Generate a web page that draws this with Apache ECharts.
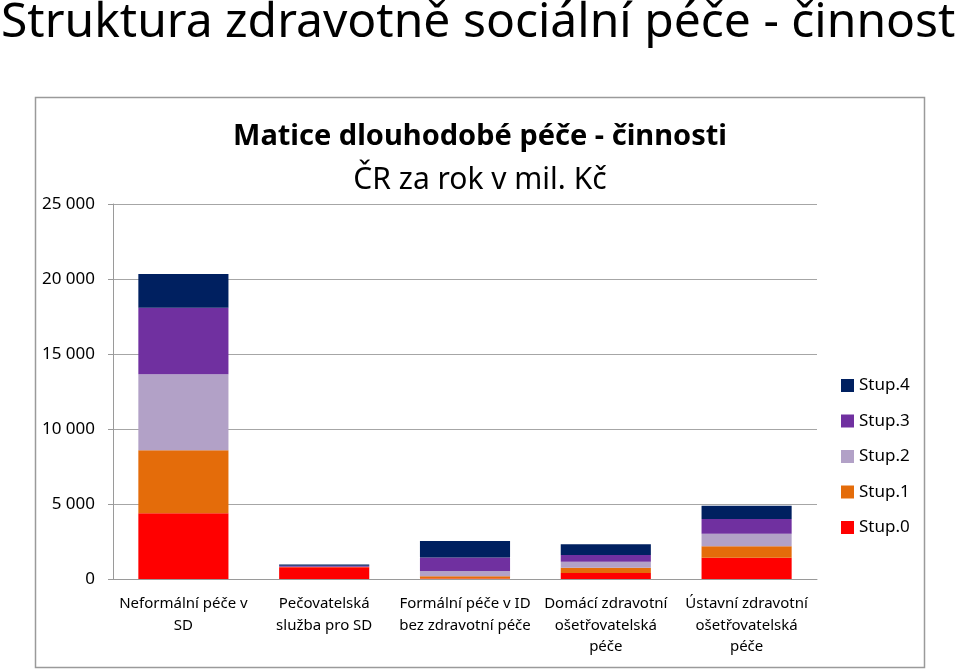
<!DOCTYPE html>
<html>
<head>
<meta charset="utf-8">
<script src="https://cdn.jsdelivr.net/npm/echarts@6/dist/echarts.min.js"></script>
<style>
html,body{margin:0;padding:0;background:#fff;}
#c{width:960px;height:670px;}
</style>
</head>
<body>
<div id="c"></div>
<script>
var categories = [
  "Neformální péče v\nSD",
  "Pečovatelská\nslužba pro SD",
  "Formální péče v ID\nbez zdravotní péče",
  "Domácí zdravotní\nošetřovatelská\npéče",
  "Ústavní zdravotní\nošetřovatelská\npéče"
];
var stup0 = [4380, 790, 30, 400, 1420];
var stup1 = [4200, 10, 150, 353, 760];
var stup2 = [5070, 20, 360, 400, 840];
var stup3 = [4440, 60, 887, 447, 980];
var stup4 = [2250, 80, 1113, 713, 887];
var yTicks = [0, 5000, 10000, 15000, 20000, 25000];

var chart = echarts.init(document.getElementById('c'));
var font = "'Noto Sans', sans-serif";
function fmt(v){ return String(v).replace(/\B(?=(\d{3})+(?!\d))/g, ' '); }
var names = ['Stup.0','Stup.1','Stup.2','Stup.3','Stup.4'];
var colors = ['#FF0000','#E46C0A','#B2A1C7','#7030A0','#002060'];
var datas = [stup0, stup1, stup2, stup3, stup4];
var series = names.map(function(n,i){
  return {name:n, type:'bar', stack:'s', data:datas[i], barWidth:'64%',
    itemStyle:{color:colors[i]}};
});
chart.setOption({
  animation:false,
  title:[
    {text:'Struktura zdravotně sociální péče - činnost', left:-4, top:-6,
     textStyle:{fontFamily:font, fontSize:48, fontWeight:'normal', color:'#000'}},
    {text:'Matice dlouhodobé péče - činnosti', left:'center', top:117,
     textStyle:{fontFamily:font, fontSize:29, fontWeight:'bold', color:'#000'}},
    {text:'ČR za rok v mil. Kč', left:'center', top:160,
     textStyle:{fontFamily:font, fontSize:30, fontWeight:'normal', color:'#000'}}
  ],
  graphic:[{type:'rect', shape:{x:35.5,y:97.5,width:889,height:570},
    style:{fill:'none', stroke:'#9a9a9a', lineWidth:1.5}, silent:true}],
  legend:{orient:'vertical', left:836, top:372, itemWidth:13, itemHeight:13, itemGap:18.5,
    data:['Stup.4','Stup.3','Stup.2','Stup.1','Stup.0'],
    textStyle:{fontFamily:font, fontSize:17, color:'#000'}, icon:'rect'},
  grid:{left:113, right:143, top:204, bottom:91, containLabel:false},
  xAxis:{type:'category', data:categories,
    axisLine:{lineStyle:{color:'#9a9a9a'}}, axisTick:{show:false},
    axisLabel:{interval:0, fontFamily:font, fontSize:15, color:'#000', lineHeight:21.5, margin:14}},
  yAxis:{type:'value', min:yTicks[0], max:yTicks[yTicks.length-1], interval:5000,
    axisLine:{show:true, lineStyle:{color:'#9a9a9a'}},
    axisTick:{show:true, length:5, lineStyle:{color:'#9a9a9a'}},
    splitLine:{lineStyle:{color:'#a6a6a6'}},
    axisLabel:{formatter:fmt, fontFamily:font, fontSize:17, color:'#000', margin:18}},
  series:series
});
</script>
</body>
</html>
